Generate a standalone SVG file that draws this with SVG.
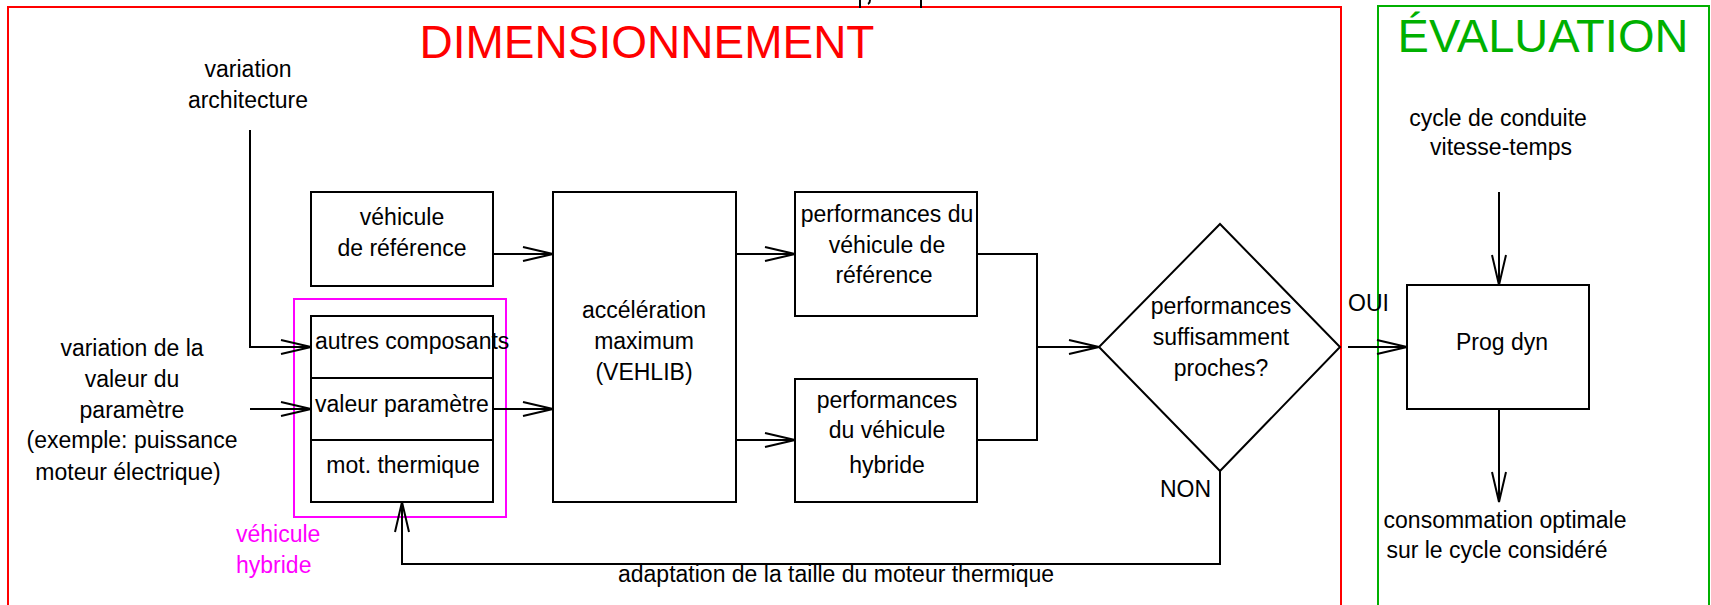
<svg xmlns="http://www.w3.org/2000/svg" width="1711" height="605" viewBox="0 0 1711 605">
<style>
text{font-family:"Liberation Sans",Arial,sans-serif;font-size:23px;fill:#000}
.c{text-anchor:middle}
.box{fill:#fff;stroke:#000;stroke-width:2}
.ln{fill:none;stroke:#000;stroke-width:2}
.arr{fill:none;stroke:#000;stroke-width:2;marker-end:url(#ah)}
</style>
<defs>
<marker id="ah" markerUnits="userSpaceOnUse" markerWidth="34" markerHeight="18" refX="30" refY="8" orient="auto" overflow="visible">
<path d="M0,1 L30,8 L0,15" fill="none" stroke="#000" stroke-width="2"/>
</marker>
</defs>
<rect width="1711" height="605" fill="#fff"/>
<g id="frames">
<rect x="8" y="7" width="1333" height="620" fill="none" stroke="#ff0000" stroke-width="2"/>
<rect x="1378" y="6" width="331" height="620" fill="none" stroke="#00b000" stroke-width="2"/>
<text x="647" y="58" class="c" style="font-size:46px;fill:#ff0000">DIMENSIONNEMENT</text>
<text x="1543" y="52" class="c" style="font-size:47px;fill:#00b000">ÉVALUATION</text>
<path d="M860,0 V8 M921,0 V8 M870,0 Q870,3 868,4" class="ln"/>
</g>
<g id="inputs">
<text x="248" y="77" class="c">variation</text>
<text x="248" y="108" class="c">architecture</text>
<text x="132" y="356" class="c">variation de la</text>
<text x="132" y="387" class="c">valeur du</text>
<text x="132" y="418" class="c">paramètre</text>
<text x="132" y="448" class="c">(exemple: puissance</text>
<text x="128" y="480" class="c">moteur électrique)</text>
</g>
<g id="vehicule-reference">
<rect x="311" y="192" width="182" height="94" class="box"/>
<text x="402" y="225" class="c">véhicule</text>
<text x="402" y="256" class="c">de référence</text>
</g>
<g id="vehicule-hybride">
<rect x="294" y="299" width="212" height="218" fill="none" stroke="#ff00ff" stroke-width="2"/>
<rect x="311" y="316" width="182" height="62" class="box"/>
<rect x="311" y="378" width="182" height="62" class="box"/>
<rect x="311" y="440" width="182" height="62" class="box"/>
<text x="315" y="349">autres composants</text>
<text x="315" y="412">valeur paramètre</text>
<text x="403" y="473" class="c">mot. thermique</text>
<text x="236" y="542" style="fill:#ff00ff">véhicule</text>
<text x="236" y="573" style="fill:#ff00ff">hybride</text>
</g>
<g id="acceleration">
<rect x="553" y="192" width="183" height="310" class="box"/>
<text x="644" y="318" class="c">accélération</text>
<text x="644" y="349" class="c">maximum</text>
<text x="644" y="380" class="c">(VEHLIB)</text>
</g>
<g id="perf-ref">
<rect x="795" y="192" width="182" height="124" class="box"/>
<text x="887" y="222" class="c">performances du</text>
<text x="887" y="253" class="c">véhicule de</text>
<text x="884" y="283" class="c">référence</text>
</g>
<g id="perf-hyb">
<rect x="795" y="379" width="182" height="123" class="box"/>
<text x="887" y="408" class="c">performances</text>
<text x="887" y="438" class="c">du véhicule</text>
<text x="887" y="473" class="c">hybride</text>
</g>
<g id="decision">
<polygon points="1220,224 1340,347 1220,471 1099,347" class="box"/>
<text x="1221" y="314" class="c">performances</text>
<text x="1221" y="345" class="c">suffisamment</text>
<text x="1221" y="376" class="c">proches?</text>
</g>
<g id="prog-dyn">
<rect x="1407" y="285" width="182" height="124" class="box"/>
<text x="1502" y="350" class="c">Prog dyn</text>
</g>
<g id="outputs">
<text x="1498" y="126" class="c">cycle de conduite</text>
<text x="1501" y="155" class="c">vitesse-temps</text>
<text x="1505" y="528" class="c">consommation optimale</text>
<text x="1497" y="558" class="c">sur le cycle considéré</text>
</g>
<g id="connectors">
<path d="M250,130 V347 H311" class="arr"/>
<path d="M250,409 H311" class="arr"/>
<path d="M493,254 H553" class="arr"/>
<path d="M493,409 H553" class="arr"/>
<path d="M736,254 H795" class="arr"/>
<path d="M736,440 H795" class="arr"/>
<path d="M977,254 H1037 V440 H977" class="ln"/>
<path d="M1037,347 H1099" class="arr"/>
<path d="M1348,347 H1407" class="arr"/>
<path d="M1220,471 V564 H402 V502" class="arr"/>
<path d="M1499,192 V285" class="arr"/>
<path d="M1499,409 V502" class="arr"/>
<text x="1348" y="311">OUI</text>
<text x="1160" y="497">NON</text>
<text x="618" y="582">adaptation de la taille du moteur thermique</text>
</g>
</svg>
